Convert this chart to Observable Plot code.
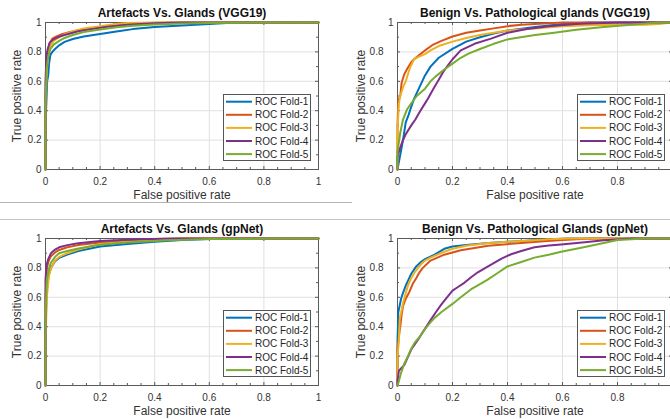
<!DOCTYPE html>
<html><head><meta charset="utf-8">
<script src="https://cdn.jsdelivr.net/npm/d3@7"></script>
<script src="https://cdn.jsdelivr.net/npm/@observablehq/plot@0.6"></script>
<style>
html,body{margin:0;padding:0;background:#fff;}
#fig{position:relative;width:670px;height:419px;overflow:hidden;background:#fff;font-family:"Liberation Sans",Arial,sans-serif;}
.panel{position:absolute;}
.legend{position:absolute;}
.sep{position:absolute;height:1px;}
</style></head><body><div id="fig"></div>
<script>
// ---------- data ----------
const foldNames = ["ROC Fold-1","ROC Fold-2","ROC Fold-3","ROC Fold-4","ROC Fold-5"];
const foldColors = ["#0072BD","#D95319","#EDB120","#7E2F8E","#77AC30"];
const xMajor = [0,0.2,0.4,0.6,0.8,1];
const yMajor = [0,0.2,0.4,0.6,0.8,1];
const xMinor = d3.range(0,1.0001,0.05).filter(v => Math.abs(v*5-Math.round(v*5))>1e-6);
const yMinor = [0.1,0.3,0.5,0.7,0.9];
const titles = ["Artefacts Vs. Glands (VGG19)","Benign Vs. Pathological glands (VGG19)","Artefacts Vs. Glands (gpNet)","Benign Vs. Pathological Glands (gpNet)"];
const xLabel = "False positive rate";
const yLabel = "True positive rate";

// Artefacts Vs. Glands (VGG19)
const avgVgg1 = [[0,0],[0.002,0.4],[0.006,0.6],[0.01,0.64],[0.013,0.72],[0.018,0.78],[0.025,0.8],[0.035,0.82],[0.05,0.845],[0.07,0.868],[0.1,0.888],[0.14,0.905],[0.2,0.922],[0.26,0.938],[0.32,0.955],[0.4,0.97],[0.5,0.98],[0.6,0.99],[0.68,0.998],[0.72,1],[1,1]];
const avgVgg2 = [[0,0],[0,0.5],[0.003,0.7],[0.008,0.8],[0.015,0.86],[0.025,0.89],[0.04,0.905],[0.06,0.92],[0.09,0.935],[0.12,0.948],[0.16,0.96],[0.2,0.97],[0.25,0.98],[0.3,0.99],[0.38,0.997],[0.45,1],[1,1]];
const avgVgg3 = [[0,0],[0,0.4],[0.004,0.65],[0.01,0.78],[0.018,0.84],[0.03,0.875],[0.05,0.9],[0.07,0.92],[0.1,0.94],[0.14,0.96],[0.2,0.975],[0.25,0.988],[0.3,0.996],[0.4,1],[1,1]];
const avgVgg4 = [[0,0],[0,0.6],[0.003,0.76],[0.008,0.82],[0.015,0.86],[0.025,0.88],[0.04,0.895],[0.06,0.91],[0.09,0.925],[0.12,0.94],[0.17,0.955],[0.22,0.97],[0.3,0.985],[0.4,0.995],[0.5,1],[1,1]];
const avgVgg5 = [[0,0],[0,0.45],[0.004,0.68],[0.01,0.77],[0.018,0.82],[0.03,0.85],[0.05,0.875],[0.07,0.895],[0.1,0.915],[0.14,0.935],[0.2,0.953],[0.26,0.968],[0.32,0.978],[0.4,0.987],[0.5,0.994],[0.6,0.997],[0.8,1],[1,1]];

// Benign Vs. Pathological glands (VGG19)
const bvpVgg1 = [[0,0],[0.005,0.05],[0.01,0.1],[0.015,0.15],[0.02,0.2],[0.03,0.32],[0.04,0.37],[0.047,0.41],[0.06,0.48],[0.08,0.56],[0.1,0.64],[0.12,0.7],[0.15,0.76],[0.2,0.82],[0.25,0.87],[0.3,0.9],[0.35,0.925],[0.4,0.945],[0.5,0.97],[0.6,0.99],[0.7,1],[1,1]];
const bvpVgg2 = [[0,0],[0,0.3],[0.003,0.47],[0.01,0.5],[0.015,0.59],[0.025,0.65],[0.037,0.69],[0.05,0.73],[0.06,0.75],[0.08,0.78],[0.1,0.81],[0.13,0.85],[0.16,0.875],[0.2,0.905],[0.25,0.93],[0.3,0.945],[0.35,0.96],[0.4,0.975],[0.45,0.985],[0.5,0.99],[0.6,1],[1,1]];
const bvpVgg3 = [[0,0],[0,0.27],[0.005,0.45],[0.01,0.5],[0.02,0.56],[0.03,0.6],[0.045,0.69],[0.06,0.75],[0.08,0.77],[0.1,0.785],[0.12,0.81],[0.15,0.84],[0.2,0.87],[0.25,0.895],[0.3,0.915],[0.35,0.93],[0.4,0.945],[0.5,0.96],[0.6,0.975],[0.7,0.982],[0.8,0.985],[0.9,0.985],[0.95,0.99],[1,1]];
const bvpVgg4 = [[0,0],[0,0.09],[0.01,0.15],[0.02,0.2],[0.03,0.24],[0.05,0.3],[0.065,0.34],[0.08,0.39],[0.1,0.45],[0.11,0.48],[0.125,0.53],[0.137,0.57],[0.15,0.61],[0.165,0.66],[0.18,0.7],[0.2,0.75],[0.23,0.81],[0.28,0.855],[0.34,0.89],[0.4,0.93],[0.47,0.956],[0.55,0.975],[0.65,0.99],[0.8,1],[1,1]];
const bvpVgg5 = [[0,0],[0,0.12],[0.01,0.25],[0.02,0.34],[0.035,0.41],[0.05,0.45],[0.07,0.5],[0.1,0.55],[0.12,0.6],[0.137,0.63],[0.17,0.68],[0.2,0.72],[0.23,0.76],[0.26,0.79],[0.3,0.82],[0.35,0.855],[0.4,0.885],[0.5,0.915],[0.57,0.93],[0.65,0.95],[0.75,0.97],[0.85,0.985],[0.95,1],[1,1]];

// Artefacts Vs. Glands (gpNet)
const avgGp1 = [[0,0],[0,0.4],[0.005,0.66],[0.012,0.75],[0.02,0.8],[0.035,0.845],[0.05,0.868],[0.08,0.89],[0.12,0.915],[0.2,0.945],[0.3,0.962],[0.4,0.978],[0.5,0.99],[0.6,0.996],[0.75,1],[1,1]];
const avgGp2 = [[0,0],[0,0.6],[0.005,0.8],[0.012,0.85],[0.02,0.88],[0.035,0.905],[0.05,0.922],[0.08,0.94],[0.12,0.955],[0.2,0.972],[0.3,0.985],[0.4,0.994],[0.5,1],[1,1]];
const avgGp3 = [[0,0],[0,0.3],[0.005,0.6],[0.012,0.74],[0.02,0.8],[0.035,0.85],[0.05,0.875],[0.08,0.9],[0.12,0.925],[0.2,0.963],[0.3,0.978],[0.4,0.99],[0.5,1],[1,1]];
const avgGp4 = [[0,0],[0,0.72],[0.004,0.82],[0.01,0.86],[0.02,0.9],[0.035,0.925],[0.05,0.94],[0.08,0.955],[0.12,0.968],[0.2,0.983],[0.3,0.992],[0.45,1],[1,1]];
const avgGp5 = [[0,0],[0,0.5],[0.005,0.72],[0.012,0.79],[0.02,0.835],[0.035,0.875],[0.05,0.9],[0.08,0.915],[0.12,0.932],[0.2,0.958],[0.3,0.972],[0.45,0.988],[0.6,0.996],[0.85,1],[1,1]];

// Benign Vs. Pathological Glands (gpNet)
const bvpGp1 = [[0,0],[0,0.3],[0.003,0.5],[0.013,0.59],[0.02,0.63],[0.03,0.68],[0.04,0.72],[0.05,0.76],[0.068,0.81],[0.085,0.84],[0.1,0.86],[0.135,0.89],[0.17,0.93],[0.2,0.945],[0.25,0.955],[0.33,0.97],[0.4,0.978],[0.47,0.985],[0.55,0.995],[0.62,1],[1,1]];
const bvpGp2 = [[0,0],[0,0.25],[0.004,0.32],[0.01,0.4],[0.015,0.48],[0.02,0.54],[0.03,0.59],[0.044,0.64],[0.055,0.69],[0.068,0.73],[0.08,0.77],[0.092,0.8],[0.12,0.85],[0.17,0.89],[0.2,0.905],[0.23,0.92],[0.33,0.95],[0.45,0.97],[0.52,0.98],[0.6,0.99],[0.7,1],[1,1]];
const bvpGp3 = [[0,0],[0,0.2],[0.005,0.3],[0.008,0.45],[0.02,0.56],[0.03,0.63],[0.038,0.68],[0.05,0.73],[0.062,0.77],[0.086,0.825],[0.1,0.85],[0.12,0.87],[0.17,0.91],[0.2,0.93],[0.25,0.95],[0.33,0.97],[0.4,0.978],[0.47,0.985],[0.55,0.995],[0.62,1],[1,1]];
const bvpGp4 = [[0,0],[0,0.03],[0.005,0.1],[0.025,0.14],[0.05,0.245],[0.074,0.31],[0.098,0.38],[0.122,0.45],[0.14,0.5],[0.159,0.55],[0.18,0.6],[0.2,0.645],[0.22,0.67],[0.244,0.7],[0.27,0.74],[0.292,0.77],[0.32,0.8],[0.353,0.836],[0.38,0.865],[0.413,0.893],[0.45,0.915],[0.498,0.94],[0.55,0.952],[0.595,0.96],[0.69,0.977],[0.75,0.988],[0.81,0.995],[0.85,1],[1,1]];
const bvpGp5 = [[0,0],[0.005,0.03],[0.013,0.086],[0.025,0.15],[0.038,0.2],[0.05,0.25],[0.062,0.29],[0.08,0.33],[0.098,0.38],[0.12,0.43],[0.135,0.46],[0.16,0.5],[0.2,0.555],[0.23,0.6],[0.268,0.655],[0.3,0.69],[0.328,0.72],[0.36,0.76],[0.4,0.81],[0.45,0.84],[0.498,0.87],[0.55,0.89],[0.595,0.91],[0.65,0.93],[0.69,0.945],[0.75,0.97],[0.8,0.99],[0.85,0.995],[0.9,1],[1,1]];

const panelData = [
  [avgVgg1,avgVgg2,avgVgg3,avgVgg4,avgVgg5],
  [bvpVgg1,bvpVgg2,bvpVgg3,bvpVgg4,bvpVgg5],
  [avgGp1,avgGp2,avgGp3,avgGp4,avgGp5],
  [bvpGp1,bvpGp2,bvpGp3,bvpGp4,bvpGp5]
];

// ---------- layout ----------
const layout = [
  {left:0,   top:0,   width:335, mL:45, mR:17, split:false, yLabelDx:-28},
  {left:335, top:0,   width:356, mL:62, mR:19, split:true,  yLabelDx:-36},
  {left:0,   top:216, width:335, mL:45, mR:17, split:false, yLabelDx:-28},
  {left:335, top:216, width:356, mL:62, mR:19, split:true,  yLabelDx:-36}
];
const SVG_H = 205, mT = 22, mB = 36, PH = SVG_H - mT - mB;
const axisColor = "#5a5a5a", textColor = "#333", gridColor = "#e0e0e0";
const FONT = "'Liberation Sans', Arial, sans-serif";
const fmt = d => String(+d.toFixed(2));

const fig = document.getElementById("fig");

layout.forEach((L, pi) => {
  const PW = L.width - L.mL - L.mR;
  const rows = panelData[pi].flatMap((pts, i) => pts.map(([x, y]) => ({fold: foldNames[i], fpr: x, tpr: y})));
  const yOuter = yMajor.filter(v => v === 0 || v === 1);
  const yInner = yMajor.filter(v => v !== 0 && v !== 1);
  // the right-hand figures are cropped at x = 1, so their "1" tick label lies outside the picture
  const xLabelled = L.split ? xMajor.filter(v => v < 1) : xMajor;
  const txt = {fontSize: 10, fill: textColor, lineAnchor: "middle"};
  const yTickMarks = L.split
    ? [Plot.text(yOuter, {...txt, y: d => d, frameAnchor: "left", textAnchor: "end", dx: -4, text: fmt}),
       Plot.text(yInner, {...txt, y: d => d, frameAnchor: "left", textAnchor: "end", dx: -14, text: fmt})]
    : [Plot.text(yMajor, {...txt, y: d => d, frameAnchor: "left", textAnchor: "end", dx: -4, text: fmt})];
  const chart = Plot.plot({
    width: L.width, height: SVG_H,
    marginLeft: L.mL, marginRight: L.mR, marginTop: mT, marginBottom: mB,
    style: {background: "transparent", maxWidth: "none", overflow: "visible", fontFamily: FONT},
    x: {domain: [0, 1], axis: null},
    y: {domain: [0, 1], axis: null},
    color: {domain: foldNames, range: foldColors},
    marks: [
      Plot.ruleX(xMajor, {stroke: gridColor}),
      Plot.ruleY(yMajor, {stroke: gridColor}),
      Plot.frame({stroke: axisColor}),
      Plot.ruleX(xMajor, {insetTop: PH - 3, stroke: axisColor}),
      Plot.ruleX(xMajor, {insetBottom: PH - 3, stroke: axisColor}),
      Plot.ruleX(xMinor, {insetTop: PH - 2, stroke: axisColor}),
      Plot.ruleX(xMinor, {insetBottom: PH - 2, stroke: axisColor}),
      Plot.ruleY(yMajor, {insetRight: PW - 3, stroke: axisColor}),
      Plot.ruleY(yMajor, {insetLeft: PW - 3, stroke: axisColor}),
      Plot.ruleY(yMinor, {insetRight: PW - 2, stroke: axisColor}),
      Plot.ruleY(yMinor, {insetLeft: PW - 2, stroke: axisColor}),
      Plot.line(rows, {x: "fpr", y: "tpr", z: "fold", stroke: "fold", strokeWidth: 2, strokeLinejoin: "round"}),
      Plot.text(xLabelled, {...txt, x: d => d, frameAnchor: "bottom", dy: 12, text: fmt}),
      ...yTickMarks,
      Plot.text([titles[pi]], {frameAnchor: "top", lineAnchor: "middle", dy: -9, fontSize: 12, fontWeight: "bold", fill: "#111"}),
      Plot.text([xLabel], {frameAnchor: "bottom", lineAnchor: "middle", dy: 26, fontSize: 12, fill: textColor}),
      Plot.text([yLabel], {frameAnchor: "left", textAnchor: "middle", lineAnchor: "middle", dx: L.yLabelDx, rotate: -90, fontSize: 12, fill: textColor})
    ]
  });
  const wrap = document.createElement("div");
  wrap.className = "panel";
  wrap.style.left = L.left + "px";
  wrap.style.top = L.top + "px";
  wrap.style.width = L.width + "px";
  wrap.style.height = SVG_H + "px";
  wrap.appendChild(chart);
  fig.appendChild(wrap);

  // legend (MATLAB-style box inside the axes)
  const colorScale = chart.scale("color");
  const LW = 88, LH = 67;
  const lg = d3.create("svg").attr("width", LW).attr("height", LH).attr("class", "legend")
    .style("left", (L.left + L.width - L.mR - 7 - LW) + "px")
    .style("top", (L.top + mT + PH - 8 - LH) + "px")
    .style("font-family", FONT);
  lg.append("rect").attr("x", 0.5).attr("y", 0.5).attr("width", LW - 1).attr("height", LH - 1)
    .attr("fill", "#fff").attr("stroke", "#555");
  colorScale.domain.forEach((name, i) => {
    const cy = 7.7 + i * 13.1;
    lg.append("line").attr("x1", 3).attr("x2", 29).attr("y1", cy).attr("y2", cy)
      .attr("stroke", colorScale.range[i]).attr("stroke-width", 2);
    lg.append("text").attr("x", 32).attr("y", cy).attr("dy", "0.35em")
      .attr("font-size", 10).attr("fill", "#262626").text(name);
  });
  fig.appendChild(lg.node());
});

// separators between the stacked figures
const s1 = document.createElement("div");
s1.className = "sep"; s1.style.left = "0px"; s1.style.top = "202px"; s1.style.width = "352px"; s1.style.background = "#b4b4b4";
fig.appendChild(s1);
const s2 = document.createElement("div");
s2.className = "sep"; s2.style.left = "0px"; s2.style.top = "219px"; s2.style.width = "670px"; s2.style.background = "#c4c4c4";
fig.appendChild(s2);
</script></body></html>
